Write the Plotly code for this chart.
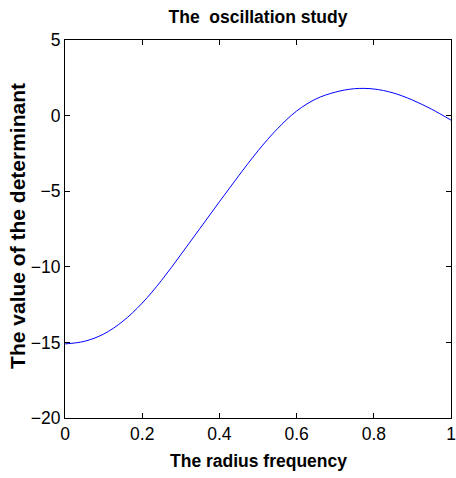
import plotly.graph_objects as go

freq = [0.0, 0.05, 0.1, 0.15, 0.2, 0.25, 0.3, 0.35, 0.4, 0.45, 0.5,
        0.55, 0.6, 0.65, 0.7, 0.75, 0.8, 0.85, 0.9, 0.95, 1.0]
det = [-15.1, -14.93, -14.45, -13.6, -12.4, -10.9, -9.2, -7.45, -5.7, -3.98, -2.33,
       -0.88, 0.3, 1.1, 1.55, 1.78, 1.76, 1.5, 1.03, 0.42, -0.3]

x_ticks = [0, 0.2, 0.4, 0.6, 0.8, 1]
y_ticks = [-20, -15, -10, -5, 0, 5]

FONT = "Liberation Sans, Arial, sans-serif"

fig = go.Figure()
fig.add_trace(go.Scatter(x=freq, y=det, mode="lines",
                         line=dict(color="#0000ff", width=1, shape="spline", smoothing=1.0),
                         showlegend=False))

axis_common = dict(showline=True, linecolor="black", linewidth=1, mirror="ticks",
                   ticks="inside", ticklen=5, tickcolor="black", tickwidth=1,
                   showgrid=False, zeroline=False, automargin=False,
                   tickfont=dict(family=FONT, size=17.5, color="black"))

fig.update_xaxes(range=[0, 1], tickvals=x_ticks, **axis_common)
fig.update_yaxes(range=[-20, 5], tickvals=y_ticks, **axis_common)

fig.update_layout(
    width=456, height=478,
    margin=dict(l=65, r=5, t=40, b=60),
    plot_bgcolor="white", paper_bgcolor="white",
    title=dict(text="The\u00a0\u00a0oscillation study", x=0.5, xref="paper",
               y=1 - 17 / 478, yanchor="middle", xanchor="center",
               font=dict(family=FONT, size=17.5, color="black", weight="bold")),
    annotations=[
        dict(text="The radius frequency", xref="paper", yref="paper",
             x=0.5, y=(418 - 461) / 378, showarrow=False,
             xanchor="center", yanchor="middle",
             font=dict(family=FONT, size=17.5, color="black", weight="bold")),
        dict(text="The value of the determinant", xref="paper", yref="paper",
             x=(17 - 65) / 385, y=(418 - 226) / 378, showarrow=False, textangle=-90,
             xanchor="center", yanchor="middle",
             font=dict(family=FONT, size=21, color="black", weight="bold")),
    ],
)

fig.write_html("out.html")
